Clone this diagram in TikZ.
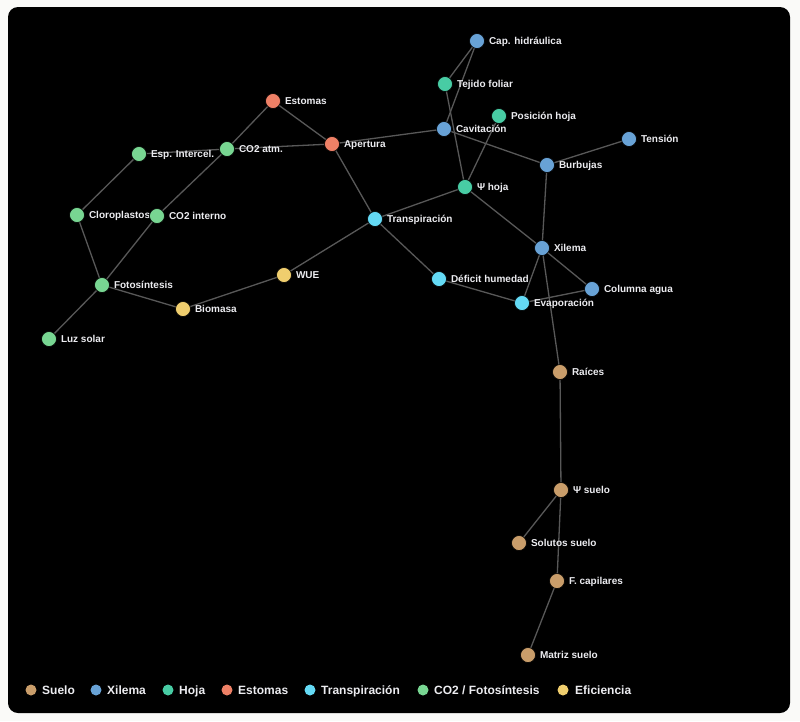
\documentclass[tikz,border=0pt]{standalone}
\usepackage{fontspec}
\setmainfont{Liberation Sans}
\definecolor{suelo}{RGB}{201,157,106}
\definecolor{xilema}{RGB}{104,162,214}
\definecolor{hoja}{RGB}{72,204,164}
\definecolor{estomas}{RGB}{238,128,102}
\definecolor{transp}{RGB}{100,218,245}
\definecolor{cofoto}{RGB}{120,214,146}
\definecolor{efic}{RGB}{240,206,110}
\definecolor{edgec}{RGB}{88,88,88}
\definecolor{txt}{RGB}{236,236,240}
\definecolor{page}{RGB}{250,250,248}
\begin{document}
\begin{tikzpicture}[x=1pt,y=-1pt,
 nd/.style={circle,inner sep=0pt,minimum size=15pt,draw=black,line width=0.6pt,fill=#1},
 lbl/.style={anchor=west,inner sep=0pt,text height=7.2pt,text depth=0pt,font=\bfseries\fontsize{10}{12}\selectfont,text=txt,xshift=4pt},
 edge/.style={draw=edgec,line width=1.3pt},
 lgd/.style={circle,inner sep=0pt,minimum size=11pt,fill=#1},
 lgdt/.style={anchor=west,inner sep=0pt,text height=8.6pt,text depth=0pt,font=\bfseries\fontsize{12}{14}\selectfont,text=txt}]
\useasboundingbox (0,0) rectangle (800,721);
\fill[page] (0,0) rectangle (800,721);
\fill[black,rounded corners=10pt] (8,7) rectangle (790,713);

% node coordinates
\coordinate (cap) at (477,41);
\coordinate (tej) at (445,84);
\coordinate (pos) at (499,116);
\coordinate (est) at (273,101);
\coordinate (cav) at (444,129);
\coordinate (ten) at (629,139);
\coordinate (ape) at (332,144);
\coordinate (esp) at (139,154);
\coordinate (atm) at (227,149);
\coordinate (bur) at (547,165);
\coordinate (psh) at (465,187);
\coordinate (clo) at (77,215);
\coordinate (coi) at (157,216);
\coordinate (tra) at (375,219);
\coordinate (xil) at (542,248);
\coordinate (wue) at (284,275);
\coordinate (def) at (439,279);
\coordinate (fot) at (102,285);
\coordinate (col) at (592,289);
\coordinate (eva) at (522,303);
\coordinate (bio) at (183,309);
\coordinate (luz) at (49,339);
\coordinate (rai) at (560,372);
\coordinate (pss) at (561,490);
\coordinate (sol) at (519,543);
\coordinate (fca) at (557,581);
\coordinate (mat) at (528,655);

% edges
\foreach \a/\b in {cap/tej,cap/cav,tej/psh,pos/psh,est/atm,est/ape,atm/ape,atm/esp,atm/coi,
  esp/clo,clo/fot,coi/fot,fot/luz,fot/bio,bio/wue,wue/tra,ape/tra,ape/cav,cav/bur,bur/ten,
  bur/xil,tra/psh,tra/def,psh/xil,xil/col,xil/eva,xil/rai,def/eva,eva/col,rai/pss,pss/sol,
  pss/fca,fca/mat}
  \draw[edge] (\a) -- (\b);

% nodes
\node[nd=xilema] (n-cap) at (cap) {}; \node[lbl] (l-cap) at (n-cap.east) {Cap. hidráulica};
\node[nd=hoja] (n-tej) at (tej) {}; \node[lbl] (l-tej) at (n-tej.east) {Tejido foliar};
\node[nd=hoja] (n-pos) at (pos) {}; \node[lbl] (l-pos) at (n-pos.east) {Posición hoja};
\node[nd=estomas] (n-est) at (est) {}; \node[lbl] (l-est) at (n-est.east) {Estomas};
\node[nd=xilema] (n-cav) at (cav) {}; \node[lbl] (l-cav) at (n-cav.east) {Cavitación};
\node[nd=xilema] (n-ten) at (ten) {}; \node[lbl] (l-ten) at (n-ten.east) {Tensión};
\node[nd=estomas] (n-ape) at (ape) {}; \node[lbl] (l-ape) at (n-ape.east) {Apertura};
\node[nd=cofoto] (n-esp) at (esp) {}; \node[lbl] (l-esp) at (n-esp.east) {Esp. Intercel.};
\node[nd=cofoto] (n-atm) at (atm) {}; \node[lbl] (l-atm) at (n-atm.east) {CO2 atm.};
\node[nd=xilema] (n-bur) at (bur) {}; \node[lbl] (l-bur) at (n-bur.east) {Burbujas};
\node[nd=hoja] (n-psh) at (psh) {}; \node[lbl] (l-psh) at (n-psh.east) {Ψ hoja};
\node[nd=cofoto] (n-clo) at (clo) {}; \node[lbl] (l-clo) at (n-clo.east) {Cloroplastos};
\node[nd=cofoto] (n-coi) at (coi) {}; \node[lbl] (l-coi) at (n-coi.east) {CO2 interno};
\node[nd=transp] (n-tra) at (tra) {}; \node[lbl] (l-tra) at (n-tra.east) {Transpiración};
\node[nd=xilema] (n-xil) at (xil) {}; \node[lbl] (l-xil) at (n-xil.east) {Xilema};
\node[nd=efic] (n-wue) at (wue) {}; \node[lbl] (l-wue) at (n-wue.east) {WUE};
\node[nd=transp] (n-def) at (def) {}; \node[lbl] (l-def) at (n-def.east) {Déficit humedad};
\node[nd=cofoto] (n-fot) at (fot) {}; \node[lbl] (l-fot) at (n-fot.east) {Fotosíntesis};
\node[nd=xilema] (n-col) at (col) {}; \node[lbl] (l-col) at (n-col.east) {Columna agua};
\node[nd=transp] (n-eva) at (eva) {}; \node[lbl] (l-eva) at (n-eva.east) {Evaporación};
\node[nd=efic] (n-bio) at (bio) {}; \node[lbl] (l-bio) at (n-bio.east) {Biomasa};
\node[nd=cofoto] (n-luz) at (luz) {}; \node[lbl] (l-luz) at (n-luz.east) {Luz solar};
\node[nd=suelo] (n-rai) at (rai) {}; \node[lbl] (l-rai) at (n-rai.east) {Raíces};
\node[nd=suelo] (n-pss) at (pss) {}; \node[lbl] (l-pss) at (n-pss.east) {Ψ suelo};
\node[nd=suelo] (n-sol) at (sol) {}; \node[lbl] (l-sol) at (n-sol.east) {Solutos suelo};
\node[nd=suelo] (n-fca) at (fca) {}; \node[lbl] (l-fca) at (n-fca.east) {F. capilares};
\node[nd=suelo] (n-mat) at (mat) {}; \node[lbl] (l-mat) at (n-mat.east) {Matriz suelo};

% legend
\node[lgd=suelo] (g1) at (31,690) {}; \node[lgdt] (g1t) at (42,690) {Suelo};
\node[lgd=xilema] (g2) at (96,690) {}; \node[lgdt] (g2t) at (107,690) {Xilema};
\node[lgd=hoja] (g3) at (168,690) {}; \node[lgdt] (g3t) at (179,690) {Hoja};
\node[lgd=estomas] (g4) at (227,690) {}; \node[lgdt] (g4t) at (238,690) {Estomas};
\node[lgd=transp] (g5) at (310,690) {}; \node[lgdt] (g5t) at (321,690) {Transpiración};
\node[lgd=cofoto] (g6) at (423,690) {}; \node[lgdt] (g6t) at (434,690) {CO2 / Fotosíntesis};
\node[lgd=efic] (g7) at (563,690) {}; \node[lgdt] (g7t) at (575,690) {Eficiencia};
\end{tikzpicture}
\end{document}
